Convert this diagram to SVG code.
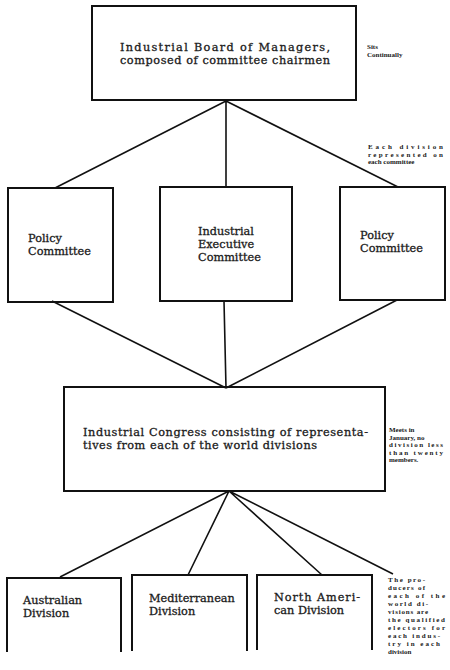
<svg xmlns="http://www.w3.org/2000/svg" width="450" height="670" viewBox="0 0 450 670">
  <style>
    .box { fill: none; stroke: #111; stroke-width: 2; }
    .conn { fill: none; stroke: #111; stroke-width: 1.6; }
    .t { font-family: "DejaVu Serif", "Liberation Serif", serif; font-size: 11.3px; fill: #1a1a1a; stroke: #1a1a1a; stroke-width: 0.3; }
    .n { font-family: "Liberation Serif", "DejaVu Serif", serif; font-size: 7px; font-weight: bold; fill: #1a1a1a; }
  </style>
  <rect width="450" height="670" fill="#fff"/>

  <g id="connectors">
    <path class="conn" d="M226 101 L55 188 M226 101 L226 188 M226 101 L398 187"/>
    <path class="conn" d="M52 301 L226 388 M224 301 L226 388 M397 300 L226 388"/>
    <path class="conn" d="M229 491 L60 577 M229 491 L188 575 M229 491 L322 575 M229 491 L393 574"/>
  </g>

  <g id="board">
    <rect class="box" x="92" y="6" width="264" height="94"/>
    <text class="t"><tspan x="120" y="51" textLength="210">Industrial Board of Managers,</tspan><tspan x="120" y="64" textLength="210">composed of committee chairmen</tspan></text>
  </g>
  <g id="note-sits">
    <text class="n"><tspan x="367" y="49">Sits</tspan><tspan x="367" y="57">Continually</tspan></text>
  </g>
  <g id="note-each-division">
    <text class="n"><tspan x="368" y="149" textLength="75">Each division</tspan><tspan x="368" y="156.5" textLength="75">represented on</tspan><tspan x="368" y="164">each committee</tspan></text>
  </g>

  <g id="policy-left">
    <rect class="box" x="8" y="188" width="105" height="114"/>
    <text class="t"><tspan x="28" y="242">Policy</tspan><tspan x="28" y="255">Committee</tspan></text>
  </g>
  <g id="executive">
    <rect class="box" x="160" y="187" width="132" height="114"/>
    <text class="t"><tspan x="198" y="235">Industrial</tspan><tspan x="198" y="248">Executive</tspan><tspan x="198" y="261">Committee</tspan></text>
  </g>
  <g id="policy-right">
    <rect class="box" x="340" y="187" width="105" height="113"/>
    <text class="t"><tspan x="360" y="239">Policy</tspan><tspan x="360" y="252">Committee</tspan></text>
  </g>

  <g id="congress">
    <rect class="box" x="64" y="387" width="321" height="104"/>
    <text class="t"><tspan x="83" y="436" textLength="285">Industrial Congress consisting of representa-</tspan><tspan x="83" y="449" textLength="234">tives from each of the world divisions</tspan></text>
  </g>
  <g id="note-meets">
    <text class="n"><tspan x="389" y="432">Meets in</tspan><tspan x="389" y="439.5">January, no</tspan><tspan x="389" y="447" textLength="54">division less</tspan><tspan x="389" y="454.5" textLength="54">than twenty</tspan><tspan x="389" y="462">members.</tspan></text>
  </g>

  <g id="australian">
    <path class="box" d="M7 652 V578 H121 V652"/>
    <text class="t"><tspan x="23" y="604">Australian</tspan><tspan x="23" y="617">Division</tspan></text>
  </g>
  <g id="mediterranean">
    <path class="box" d="M132 651 V575 H247 V651"/>
    <text class="t"><tspan x="149" y="602">Mediterranean</tspan><tspan x="149" y="615">Division</tspan></text>
  </g>
  <g id="north-american">
    <path class="box" d="M257 650 V575 H372 V650"/>
    <text class="t"><tspan x="274" y="601" textLength="86">North Ameri-</tspan><tspan x="274" y="614">can Division</tspan></text>
  </g>
  <g id="note-producers">
    <text class="n"><tspan x="388" y="582" textLength="37">The pro-</tspan><tspan x="388" y="590" textLength="37">ducers of</tspan><tspan x="388" y="598" textLength="57">each of the</tspan><tspan x="388" y="606" textLength="40">world di-</tspan><tspan x="388" y="614" textLength="40">visions are</tspan><tspan x="388" y="622" textLength="57">the qualified</tspan><tspan x="388" y="630" textLength="57">electors for</tspan><tspan x="388" y="638" textLength="52">each indus-</tspan><tspan x="388" y="646" textLength="52">try in each</tspan><tspan x="388" y="654">division</tspan></text>
  </g>
</svg>
